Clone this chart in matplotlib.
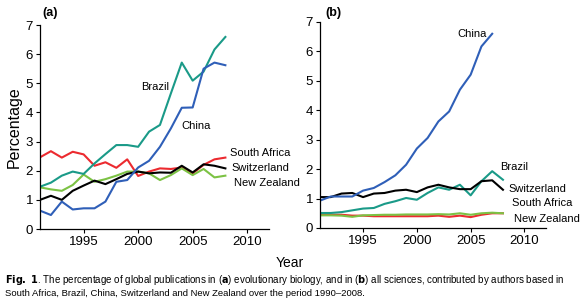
import matplotlib
matplotlib.use("Agg")
import matplotlib.pyplot as plt

plt.rcParams['font.family'] = ['Liberation Sans', 'DejaVu Sans']
plt.rcParams['mathtext.fontset'] = 'custom'
plt.rcParams['mathtext.bf'] = 'Liberation Sans Narrow:bold'
plt.rcParams['mathtext.rm'] = 'Liberation Sans Narrow'

years = list(range(1991, 2009))

# (a) evolutionary biology
a_china = [0.63, 0.48, 0.94, 0.67, 0.71, 0.71, 0.94, 1.62, 1.68, 2.11, 2.34, 2.82, 3.45, 4.16, 4.17, 5.5, 5.71, 5.62]
a_brazil = [1.45, 1.59, 1.83, 1.97, 1.89, 2.25, 2.57, 2.88, 2.88, 2.82, 3.34, 3.57, 4.65, 5.71, 5.09, 5.4, 6.16, 6.59]
a_safrica = [2.46, 2.67, 2.45, 2.65, 2.56, 2.17, 2.29, 2.1, 2.39, 1.82, 1.97, 2.08, 2.06, 2.11, 1.91, 2.2, 2.39, 2.45]
a_swiss = [1.0, 1.14, 1.0, 1.31, 1.49, 1.66, 1.54, 1.71, 1.89, 1.97, 1.91, 1.94, 1.93, 2.17, 1.94, 2.22, 2.17, 2.08]
a_nz = [1.43, 1.36, 1.31, 1.51, 1.87, 1.62, 1.71, 1.83, 1.97, 1.97, 1.91, 1.68, 1.85, 2.08, 1.85, 2.06, 1.77, 1.83]

# (b) all sciences
b_china = [0.93, 1.07, 1.07, 1.07, 1.27, 1.36, 1.56, 1.79, 2.15, 2.7, 3.06, 3.62, 3.96, 4.7, 5.21, 6.17, 6.6]
b_brazil = [0.51, 0.51, 0.54, 0.6, 0.66, 0.68, 0.82, 0.91, 1.02, 0.96, 1.19, 1.38, 1.3, 1.47, 1.11, 1.59, 1.93, 1.64]
b_safrica = [0.45, 0.45, 0.45, 0.42, 0.42, 0.4, 0.4, 0.4, 0.4, 0.4, 0.4, 0.42, 0.38, 0.42, 0.37, 0.45, 0.5, 0.5]
b_swiss = [1.05, 1.05, 1.17, 1.19, 1.05, 1.17, 1.19, 1.27, 1.3, 1.22, 1.38, 1.47, 1.38, 1.32, 1.32, 1.59, 1.62, 1.3]
b_nz = [0.43, 0.43, 0.42, 0.38, 0.43, 0.44, 0.45, 0.45, 0.46, 0.46, 0.46, 0.47, 0.46, 0.5, 0.45, 0.5, 0.52, 0.5]

c_china = '#2f5fb8'
c_brazil = '#1a9a88'
c_sa = '#ec2a2f'
c_swiss = '#000000'
c_nz = '#7cc244'

fig = plt.figure(figsize=(5.8, 3.04), dpi=100)
W, H = 580, 304
ax1 = fig.add_axes([40 / W, 1 - 229 / H, 229 / W, 204 / H])
ax2 = fig.add_axes([320 / W, 1 - 228 / H, 226 / W, 206 / H])

lw = 1.5
ax1.plot(years, a_safrica, color=c_sa, lw=lw)
ax1.plot(years, a_nz, color=c_nz, lw=lw)
ax1.plot(years, a_swiss, color=c_swiss, lw=lw)
ax1.plot(years, a_brazil, color=c_brazil, lw=lw)
ax1.plot(years, a_china, color=c_china, lw=lw)

ax2.plot(years, b_safrica, color=c_sa, lw=lw)
ax2.plot(years, b_nz, color=c_nz, lw=lw)
ax2.plot(years, b_brazil, color=c_brazil, lw=lw)
ax2.plot(years, b_swiss, color=c_swiss, lw=lw)
ax2.plot(years[:len(b_china)], b_china, color=c_china, lw=lw)

for ax in (ax1, ax2):
    ax.set_xlim(1991, 2012)
    ax.set_ylim(0, 7)
    ax.set_xticks([1995, 2000, 2005, 2010])
    ax.set_yticks(range(8))
    ax.spines['top'].set_visible(False)
    ax.spines['right'].set_visible(False)
    ax.tick_params(labelsize=9.5, length=3, width=0.8, direction='out', pad=2)
    ax.spines['left'].set_linewidth(0.9)
    ax.spines['bottom'].set_linewidth(0.9)

fs = 8
ax1.text(2000.3, 4.88, 'Brazil', fontsize=fs, va='center')
ax1.text(2004.0, 3.53, 'China', fontsize=fs, va='center')
ax1.text(2008.4, 2.6, 'South Africa', fontsize=fs, va='center', clip_on=False)
ax1.text(2008.6, 2.08, 'Switzerland', fontsize=fs, va='center', clip_on=False)
ax1.text(2008.8, 1.57, 'New Zealand', fontsize=fs, va='center', clip_on=False)

ax2.text(2003.8, 6.59, 'China', fontsize=fs, va='center')
ax2.text(2007.7, 2.06, 'Brazil', fontsize=fs, va='center')
ax2.text(2008.5, 1.32, 'Switzerland', fontsize=fs, va='center')
ax2.text(2008.8, 0.85, 'South Africa', fontsize=fs, va='center')
ax2.text(2009.0, 0.31, 'New Zealand', fontsize=fs, va='center')

ax1.set_ylabel('Percentage', fontsize=11.5, labelpad=3)

fig.text(42 / W, 1 - 13 / H, '(a)', fontsize=9, fontweight='bold', va='center')
fig.text(325 / W, 1 - 13 / H, '(b)', fontsize=9, fontweight='bold', va='center')
fig.text(290 / W, 1 - 263 / H, 'Year', fontsize=10, ha='center', va='center')

cap_font = ['Liberation Sans Narrow', 'Liberation Sans', 'DejaVu Sans']
fig.text(5 / W, 1 - 280 / H,
         r'$\bf{Fig.\ 1}$. The percentage of global publications in ($\bf{a}$) evolutionary biology, '
         r'and in ($\bf{b}$) all sciences, contributed by authors based in',
         fontsize=7.05, va='center', family=cap_font)
fig.text(5 / W, 1 - 293 / H,
         'South Africa, Brazil, China, Switzerland and New Zealand over the period 1990\u20132008.',
         fontsize=6.8, va='center', family=cap_font)

fig.savefig('out.png', dpi=100)
